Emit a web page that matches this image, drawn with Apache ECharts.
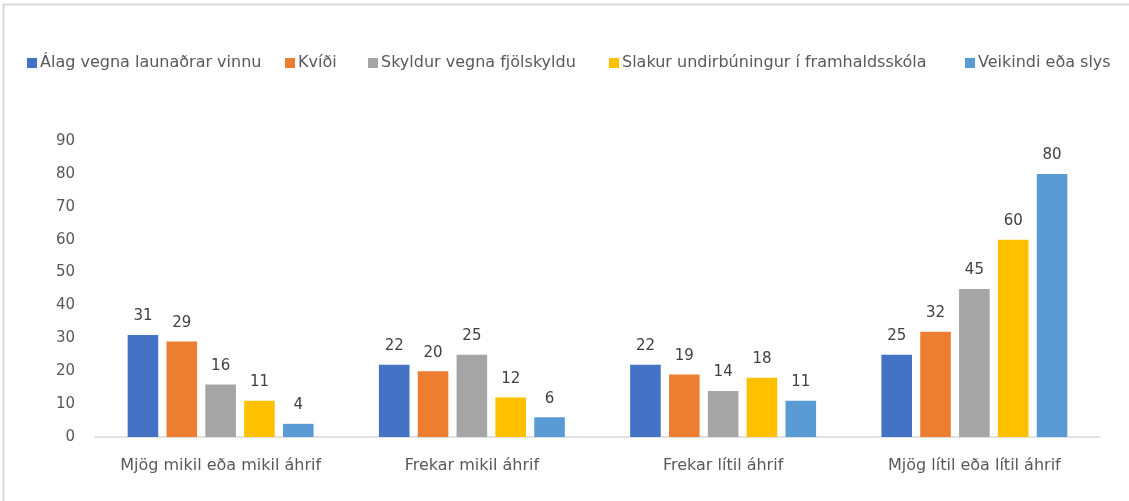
<!DOCTYPE html>
<html><head><meta charset="utf-8">
<script src="https://cdn.jsdelivr.net/npm/echarts@6/dist/echarts.min.js"></script>
<style>html,body{margin:0;padding:0;background:#fff;overflow:hidden}#c{width:1129px;height:501px}</style>
</head><body><div id="c"></div>
<script>
const categories = ['Mjög mikil eða mikil áhrif', 'Frekar mikil áhrif', 'Frekar lítil áhrif', 'Mjög lítil eða lítil áhrif'];
const seriesNames = ['Álag vegna launaðrar vinnu', 'Kvíði', 'Skyldur vegna fjölskyldu', 'Slakur undirbúningur í framhaldsskóla', 'Veikindi eða slys'];
const alag = [31, 22, 22, 25];
const kvidi = [29, 20, 19, 32];
const skyldur = [16, 25, 14, 45];
const slakur = [11, 12, 18, 60];
const veikindi = [4, 6, 11, 80];
const colors = ['#4472C4', '#ED7D31', '#A5A5A5', '#FFC000', '#5B9BD5'];
const values = [alag, kvidi, skyldur, slakur, veikindi];
const legendLeft = [27, 285, 368, 609, 965];

const chart = echarts.init(document.getElementById('c'), null, {renderer: 'canvas'});
const font = '"DejaVu Sans", sans-serif';
chart.setOption({
  animation: false,
  backgroundColor: '#fff',
  graphic: [
    {type: 'polyline', shape: {points: [[3.5, 520], [3.5, 4.5], [1150, 4.5]]}, style: {stroke: '#d9d9d9', lineWidth: 2, fill: null}}
  ],
  legend: seriesNames.map((n, i) => ({
    top: 55, left: legendLeft[i],
    itemWidth: 10, itemHeight: 10,
    icon: 'rect', padding: 0,
    textStyle: {fontFamily: font, fontSize: 16, color: '#595959', padding: [0, 0, 0, -2]},
    data: [n]
  })),
  grid: {left: 95, right: 29, top: 141, bottom: 64, containLabel: false},
  xAxis: {
    type: 'category', data: categories,
    axisLine: {lineStyle: {color: '#d9d9d9', width: 1.5}},
    axisTick: {show: false},
    axisLabel: {interval: 0, fontFamily: font, fontSize: 16, color: '#595959', margin: 21}
  },
  yAxis: {
    type: 'value', min: 0, max: 90, interval: 10,
    axisLine: {show: false}, axisTick: {show: false}, splitLine: {show: false},
    axisLabel: {fontFamily: font, fontSize: 15, color: '#595959', margin: 20}
  },
  series: seriesNames.map((n, i) => ({
    name: n, type: 'bar', data: values[i],
    barGap: '27%', barCategoryGap: '26%',
    itemStyle: {color: colors[i]},
    label: {show: true, position: 'top', distance: 11, fontFamily: font, fontSize: 15, color: '#404040'}
  }))
});
</script></body></html>
